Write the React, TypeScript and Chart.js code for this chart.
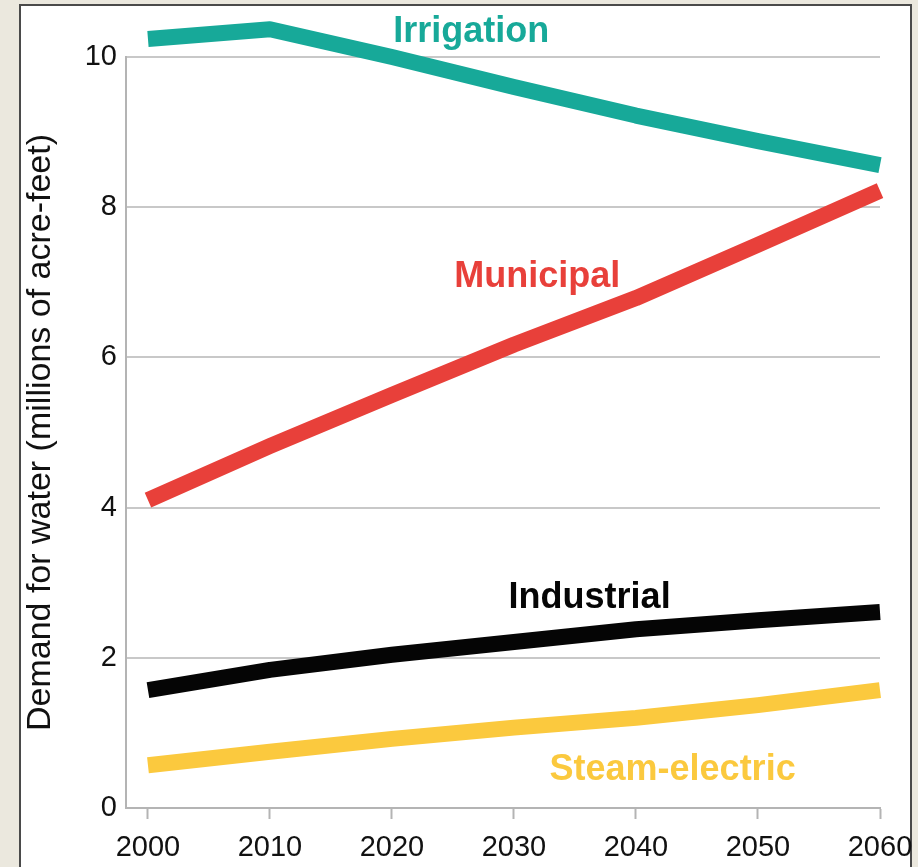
import React, { useEffect, useRef } from "react";
import { Chart, registerables } from "chart.js";

Chart.register(...registerables);

const years = [2000, 2010, 2020, 2030, 2040, 2050, 2060];
const irrigation = [10.24, 10.37, 10.0, 9.6, 9.22, 8.88, 8.56];
const municipal = [4.1, 4.82, 5.5, 6.17, 6.79, 7.5, 8.22];
const industrial = [1.57, 1.84, 2.04, 2.21, 2.38, 2.5, 2.61];
const steamElectric = [0.57, 0.75, 0.92, 1.07, 1.2, 1.37, 1.57];

const seriesNames = ["Irrigation", "Municipal", "Industrial", "Steam-electric"];
const seriesColors = ["#17a999", "#e8403a", "#050505", "#fbc93e"];
const labelYears = [2026.5, 2031.9, 2036.2, 2043.0];
const labelValues = [10.2, 6.94, 2.66, 0.37];

const yTicks = [0, 2, 4, 6, 8, 10];
const yTitle = "Demand for water (millions of acre-feet)";

const FONT = "'Liberation Sans', Arial, Helvetica, sans-serif";

const labelPlugin = {
  id: "seriesLabels",
  afterDatasetsDraw(chart: any) {
    const { ctx, scales } = chart;
    ctx.save();
    ctx.font = `bold 36px ${FONT}`;
    ctx.textAlign = "center";
    ctx.textBaseline = "alphabetic";
    seriesNames.forEach((name, i) => {
      const x = scales.x.getPixelForValue(labelYears[i]);
      const y = scales.y.getPixelForValue(labelValues[i]);
      ctx.fillStyle = seriesColors[i];
      ctx.fillText(name, x, y);
    });
    ctx.restore();
  },
};

export default function App() {
  const ref = useRef<HTMLCanvasElement | null>(null);

  useEffect(() => {
    if (!ref.current) return;
    const allSeries = [irrigation, municipal, industrial, steamElectric];
    const chart = new Chart(ref.current, {
      type: "line",
      data: {
        datasets: allSeries.map((vals, i) => ({
          label: seriesNames[i],
          data: years.map((yr, j) => ({ x: yr, y: vals[j] })),
          borderColor: seriesColors[i],
          backgroundColor: seriesColors[i],
          borderWidth: 16,
          borderCapStyle: "butt",
          borderJoinStyle: "round",
          pointRadius: 0,
          tension: 0,
          clip: false,
        })),
      },
      options: {
        animation: false,
        responsive: false,
        devicePixelRatio: 1,
        layout: { padding: { top: 57, right: 38, left: 0, bottom: 0 } },
        plugins: {
          legend: { display: false },
          tooltip: { enabled: false },
        },
        scales: {
          x: {
            type: "linear",
            min: 1998.2,
            max: 2060,
            afterBuildTicks: (axis: any) => {
              axis.ticks = years.map((v) => ({ value: v }));
            },
            afterFit: (scale: any) => {
              scale.height = 59;
              scale.paddingLeft = 0;
              scale.paddingRight = 0;
            },
            grid: {
              drawOnChartArea: false,
              drawTicks: true,
              tickLength: 11,
              tickWidth: 2,
              tickColor: "#b4b4b4",
            },
            border: { display: true, color: "#b4b4b4", width: 2 },
            ticks: {
              color: "#111",
              font: { family: FONT, size: 29 },
              padding: 12,
              maxRotation: 0,
              autoSkip: false,
              callback: (v: any) => String(v),
            },
          },
          y: {
            type: "linear",
            min: 0,
            max: 10,
            afterBuildTicks: (axis: any) => {
              axis.ticks = yTicks.map((v) => ({ value: v }));
            },
            afterFit: (scale: any) => {
              scale.width = 126;
              scale.paddingTop = 0;
              scale.paddingBottom = 0;
            },
            grid: {
              color: "#c8c8c8",
              lineWidth: 2,
              drawTicks: false,
            },
            border: { display: true, color: "#b4b4b4", width: 2 },
            ticks: {
              color: "#111",
              font: { family: FONT, size: 29 },
              padding: 9,
              callback: (v: any) => String(v),
            },
            title: {
              display: true,
              text: yTitle,
              color: "#111",
              font: { family: FONT, size: 34, weight: "normal" },
              padding: { top: 20, bottom: 0 },
            },
          },
        },
      },
      plugins: [labelPlugin],
    } as any);
    return () => chart.destroy();
  }, []);

  return (
    <div
      style={{
        position: "fixed",
        left: 0,
        top: 0,
        width: 918,
        height: 867,
        background: "#ebe8de",
        overflow: "hidden",
      }}
    >
      <div
        style={{
          position: "absolute",
          left: 19,
          top: 4,
          width: 893,
          height: 900,
          border: "2px solid #4a4a4a",
          background: "#ffffff",
          boxSizing: "border-box",
        }}
      />
      <canvas
        ref={ref}
        width={918}
        height={867}
        style={{ position: "absolute", left: 0, top: 0, width: 918, height: 867 }}
      />
    </div>
  );
}
